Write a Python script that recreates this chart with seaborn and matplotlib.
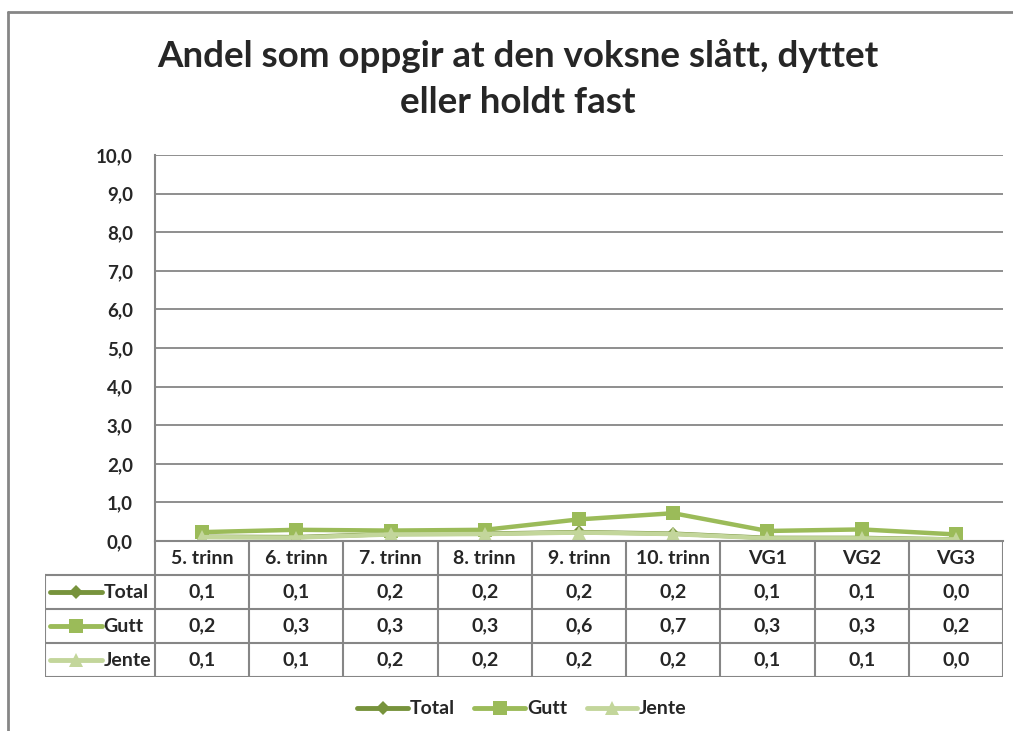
import numpy as np
import pandas as pd
import matplotlib
matplotlib.use('Agg')
import matplotlib.pyplot as plt
import seaborn as sns

categories = ['5. trinn', '6. trinn', '7. trinn', '8. trinn', '9. trinn',
              '10. trinn', 'VG1', 'VG2', 'VG3']
total = [0.11, 0.10, 0.18, 0.19, 0.23, 0.19, 0.08, 0.08, 0.04]
gutt = [0.23, 0.29, 0.27, 0.29, 0.56, 0.72, 0.26, 0.30, 0.17]
jente = [0.10, 0.09, 0.17, 0.18, 0.22, 0.18, 0.07, 0.07, 0.04]
series = ['Total', 'Gutt', 'Jente']
colors = {'Total': '#77933C', 'Gutt': '#9BBB59', 'Jente': '#C3D69B'}
markers = {'Total': 'D', 'Gutt': 's', 'Jente': '^'}
msizes = {'Total': 7, 'Gutt': 10.5, 'Jente': 10}
yticks = np.arange(0, 11, 1)
title = 'Andel som oppgir at den voksne slått, dyttet\neller holdt fast'

df = pd.DataFrame({'kategori': categories * 3,
                   'serie': np.repeat(series, len(categories)),
                   'verdi': total + gutt + jente})

sns.set_style('white')
plt.rcParams['font.family'] = ['Lato', 'DejaVu Sans']

W, H = 1013, 731
fig = plt.figure(figsize=(W / 100, H / 100), dpi=100)
grid_c = '#868686'

def px(x0, y0, x1, y1):
    return [x0 / W, 1 - y1 / H, (x1 - x0) / W, (y1 - y0) / H]

# main plot
ax = fig.add_axes(px(155, 155, 1003, 541))
sns.lineplot(data=df, x='kategori', y='verdi', hue='serie', style='serie',
             palette=colors, markers=markers, dashes=False, linewidth=3.2,
             markeredgewidth=0, legend=False, sort=False, ax=ax)
for line, s in zip(ax.lines, series):
    line.set_markersize(msizes[s])
    line.set_solid_joinstyle('miter')
ax.set_xlim(-0.5, len(categories) - 0.5)
ax.set_ylim(0, 10)
ax.set_yticks(yticks)
ax.set_yticklabels([f'{v:.1f}'.replace('.', ',') for v in yticks],
                   fontsize=13.5, fontweight='bold')
ax.tick_params(axis='y', length=0, pad=16)
ax.set_xticks([])
ax.set_xlabel('')
ax.set_ylabel('')
ax.yaxis.grid(True, color=grid_c, linewidth=1.3)
ax.set_axisbelow(True)
for sp in ['top', 'right']:
    ax.spines[sp].set_visible(False)
for sp in ['left', 'bottom']:
    ax.spines[sp].set_color(grid_c)
    ax.spines[sp].set_linewidth(1.5)

# data table below
left_w = 110 / (848 / len(categories))
tx0 = -0.5 - left_w
tax = fig.add_axes(px(45, 541, 1003, 677))
tax.set_xlim(tx0, len(categories) - 0.5)
tax.set_ylim(4, 0)
tax.axis('off')
lkw = dict(color=grid_c, linewidth=1.5, solid_capstyle='projecting')
for r in [1, 2, 3, 4]:
    tax.plot([tx0, len(categories) - 0.5], [r, r], **lkw)
for k in range(len(categories) + 1):
    tax.plot([k - 0.5, k - 0.5], [0, 4], **lkw)
tax.plot([tx0, tx0], [1, 4], **lkw)
for i, c in enumerate(categories):
    tax.text(i, 0.5, c, ha='center', va='center', fontsize=14, fontweight='bold')
for r, (s, vals) in enumerate(zip(series, [total, gutt, jente]), start=1):
    for i, v in enumerate(vals):
        tax.text(i, r + 0.5, f'{v:.1f}'.replace('.', ','), ha='center', va='center',
                 fontsize=14, fontweight='bold')
    tax.plot([tx0 + 0.05, tx0 + 0.6], [r + 0.5, r + 0.5], color=colors[s], linewidth=3.5)
    tax.plot([tx0 + 0.325], [r + 0.5], marker=markers[s], color=colors[s],
             markersize=msizes[s], markeredgewidth=0)
    tax.text(tx0 + 0.62, r + 0.5, s, ha='left', va='center', fontsize=14, fontweight='bold')

# bottom legend
handles = [plt.Line2D([], [], color=colors[s], marker=markers[s], linewidth=3.5,
                      markersize=msizes[s], markeredgewidth=0) for s in series]
leg = fig.legend(handles, series, loc='center', bbox_to_anchor=(522 / W, 1 - 709 / H),
                 ncol=3, frameon=False, handlelength=2.6, handletextpad=0.1,
                 columnspacing=1.0, prop={'size': 14, 'weight': 'bold'})

fig.text(518 / W, 1 - 79 / H, title, ha='center', va='center', fontsize=26.5,
         fontweight='bold', linespacing=1.45)

# outer chart frame
fig.add_artist(plt.Line2D([8 / W, 8 / W], [0, 1 - 12 / H], color=grid_c, linewidth=2,
                          transform=fig.transFigure))
fig.add_artist(plt.Line2D([8 / W, 1], [1 - 12 / H, 1 - 12 / H], color=grid_c, linewidth=2,
                          transform=fig.transFigure))

fig.savefig('out.png', dpi=100)
